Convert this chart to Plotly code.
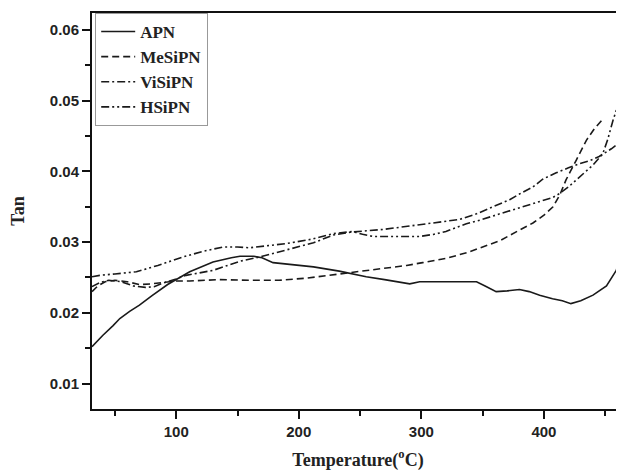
import plotly.graph_objects as go

apn_x = [31.3, 40, 48.5, 54, 62, 70, 80, 93, 111, 130, 145, 152, 163, 170, 179, 195, 212, 233, 255, 270, 282, 290.5, 298.6, 307, 326, 345, 352, 361, 370, 380, 388, 396.5, 407, 415, 422, 430, 440, 451, 459, 465.5]
apn_y = [0.0152, 0.0168, 0.0182, 0.0192, 0.0202, 0.0211, 0.0224, 0.0240, 0.0258, 0.0272, 0.0278, 0.0280, 0.0280, 0.0278, 0.0271, 0.0268, 0.0265, 0.0259, 0.0251, 0.0247, 0.0243, 0.0241, 0.0244, 0.0244, 0.0245, 0.0244, 0.0238, 0.0230, 0.0231, 0.0233, 0.0230, 0.0225, 0.0220, 0.0217, 0.0213, 0.0217, 0.0225, 0.0238, 0.0260, 0.0300]

mesipn_x = [31.3, 36, 42, 50, 60, 70, 80, 90, 100, 111, 135, 160, 184, 206, 233, 250, 269, 288, 301, 320, 337, 350, 364, 380, 391, 400, 407.4, 413, 418, 426.4, 434.6, 441, 447]
mesipn_y = [0.0230, 0.0238, 0.0244, 0.0246, 0.0244, 0.0240, 0.0241, 0.0243, 0.0245, 0.0245, 0.0247, 0.0246, 0.0246, 0.0249, 0.0255, 0.0258, 0.0263, 0.0267, 0.0271, 0.0277, 0.0285, 0.0293, 0.0302, 0.0317, 0.0327, 0.0338, 0.0350, 0.0367, 0.0388, 0.0416, 0.0444, 0.0460, 0.0472]

visipn_x = [31.3, 38, 45, 55, 65, 75, 82, 89, 100, 108, 130, 152, 168, 190, 212, 228, 242, 255, 269, 296, 315, 331, 345, 361, 372, 380, 391, 399, 410, 420, 429, 437, 445, 455, 465.5]
visipn_y = [0.0237, 0.0243, 0.0246, 0.0244, 0.0238, 0.0236, 0.0237, 0.0242, 0.0248, 0.0253, 0.0260, 0.0273, 0.0279, 0.0289, 0.0299, 0.0310, 0.0314, 0.0316, 0.0318, 0.0324, 0.0328, 0.0332, 0.0340, 0.0352, 0.0360, 0.0368, 0.0378, 0.0389, 0.0398, 0.0405, 0.0411, 0.0415, 0.0421, 0.0432, 0.0446]

hsipn_x = [31.3, 37.6, 50, 67.5, 85, 105.5, 122, 138, 150, 160, 175, 190, 210, 228, 244, 252, 260.5, 275, 290, 298.6, 310, 320, 336.7, 347.6, 364, 375, 391, 407, 413, 420, 426.4, 433, 440, 448, 452, 456.3, 460, 465.5]
hsipn_y = [0.0251, 0.0253, 0.0255, 0.0258, 0.0267, 0.0279, 0.0287, 0.0293, 0.0293, 0.0292, 0.0295, 0.0298, 0.0304, 0.0312, 0.0315, 0.0311, 0.0308, 0.0308, 0.0307, 0.0308, 0.0311, 0.0315, 0.0326, 0.0331, 0.0340, 0.0346, 0.0355, 0.0363, 0.0369, 0.0378, 0.0388, 0.0398, 0.0409, 0.0425, 0.0445, 0.0472, 0.0492, 0.0520]

series = [
    ("APN", apn_x, apn_y, "solid"),
    ("MeSiPN", mesipn_x, mesipn_y, "7px,4px"),
    ("ViSiPN", visipn_x, visipn_y, "8px,3px,2px,3px"),
    ("HSiPN", hsipn_x, hsipn_y, "8px,3px,2px,3px,2px,3px"),
]

fig = go.Figure()
for name, xs, ys, dash in series:
    fig.add_trace(go.Scatter(x=xs, y=ys, mode="lines", name=name,
                             line=dict(color="#1a1a1a", width=1.6, dash=dash)))

tickfont = dict(family="Liberation Sans", size=15, color="#222", weight="bold")
titlefont = dict(family="Liberation Serif", size=18, color="#222", weight="bold")

# the page body adds an 8px margin, so the figure is sized 8px smaller
fig.update_layout(
    width=616, height=468,
    margin=dict(l=84, r=0, t=5, b=67),
    paper_bgcolor="white", plot_bgcolor="white",
    showlegend=True,
    legend=dict(x=0.006, y=1, xanchor="left", yanchor="top",
                bgcolor="white", bordercolor="#999", borderwidth=1,
                font=dict(family="Liberation Serif", size=17, color="#222", weight="bold"),
                itemwidth=34, tracegroupgap=0),
    xaxis=dict(range=[31.3, 465.3], showgrid=False, zeroline=False,
               showline=True, linecolor="#111", linewidth=2, mirror=True,
               ticks="outside", ticklen=8, tickwidth=2, tickcolor="#111",
               tickvals=[100, 200, 300, 400], tickfont=tickfont,
               minor=dict(ticks="outside", ticklen=5, tickwidth=2, tickcolor="#111", dtick=50, tick0=0),
               title=dict(text="Temperature(<sup>o</sup>C)", font=titlefont, standoff=14)),
    yaxis=dict(range=[0.0064, 0.0624], showgrid=False, zeroline=False,
               showline=True, linecolor="#111", linewidth=2, mirror=False,
               ticks="outside", ticklen=8, tickwidth=2, tickcolor="#111",
               tickvals=[0.01, 0.02, 0.03, 0.04, 0.05, 0.06],
               ticktext=["0.01", "0.02", "0.03", "0.04", "0.05", "0.06"],
               tickfont=tickfont,
               minor=dict(ticks="outside", ticklen=5, tickwidth=2, tickcolor="#111", dtick=0.005, tick0=0),
               title=dict(text="Tan", font=titlefont, standoff=24)),
)

fig.write_html("out.html")
